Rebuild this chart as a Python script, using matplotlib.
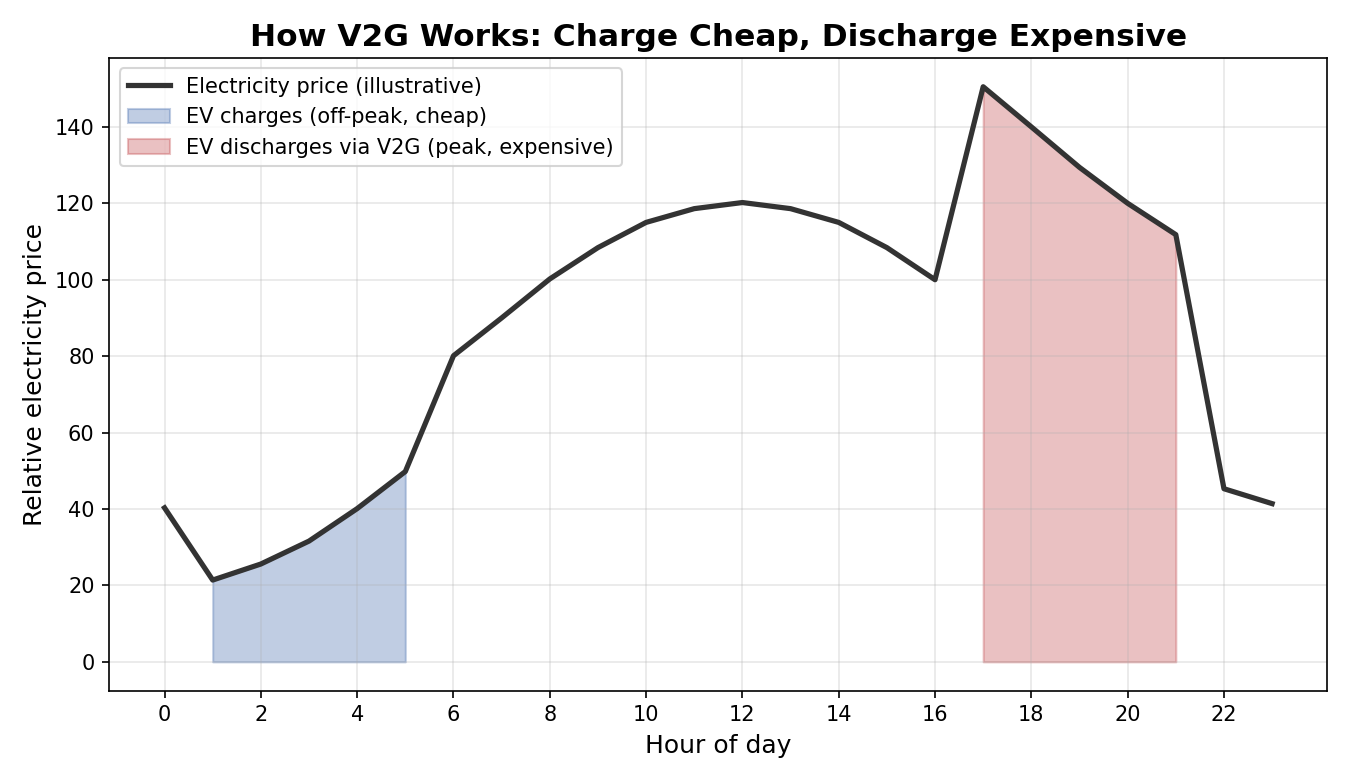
import numpy as np
import matplotlib.pyplot as plt

# hourly relative price
hours = np.arange(24)
price = [40.3, 21.4, 25.6, 31.6, 40.1, 49.8, 80.1, 90.0, 100.2, 108.4, 115.0, 118.6,
         120.2, 118.6, 115.0, 108.4, 100.0, 150.5, 140.0, 129.4, 120.0, 111.8, 45.3, 41.4]
charge_hours = (1, 5)
discharge_hours = (17, 21)

def main():
    x = hours
    y = np.asarray(price)
    fig, ax = plt.subplots(figsize=(9, 5.2), dpi=150)
    ax.plot(x, y, color='#333333', lw=2.5, label='Electricity price (illustrative)')
    m = (x >= charge_hours[0]) & (x <= charge_hours[1])
    ax.fill_between(x[m], 0, y[m], color='#4c72b0', alpha=0.35,
                    label='EV charges (off-peak, cheap)')
    m = (x >= discharge_hours[0]) & (x <= discharge_hours[1])
    ax.fill_between(x[m], 0, y[m], color='#c44e52', alpha=0.35,
                    label='EV discharges via V2G (peak, expensive)')
    ax.set_xticks(np.arange(0, 24, 2))
    ax.set_xlabel('Hour of day', fontsize=12)
    ax.set_ylabel('Relative electricity price', fontsize=12)
    ax.set_title('How V2G Works: Charge Cheap, Discharge Expensive', fontsize=15, fontweight='bold')
    ax.grid(alpha=0.3)
    ax.legend(loc='upper left')
    fig.tight_layout()
    fig.savefig('out.png', dpi=150)
    plt.close(fig)

if __name__ == "__main__":
    main()
